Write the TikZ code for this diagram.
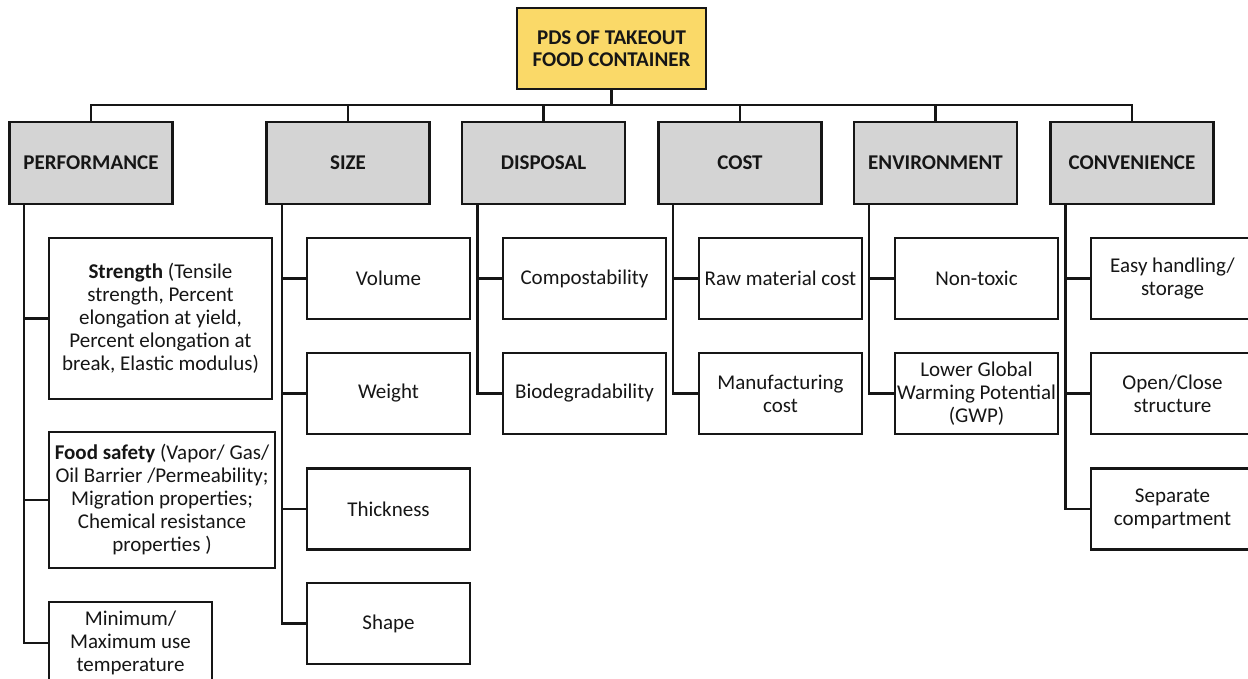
\documentclass[tikz,border=0pt]{standalone}
\usepackage{fontspec}
\setmainfont{Carlito}
\usetikzlibrary{calc}
\definecolor{catgray}{RGB}{212,212,212}
\definecolor{topyellow}{RGB}{250,217,104}
\definecolor{ink}{RGB}{22,22,22}
\tikzset{
  base/.style={draw=ink, line width=2.5pt, minimum width=163pt, minimum height=81pt,
    inner sep=0pt, align=center, text=ink, font=\fontsize{21}{23}\selectfont},
  catbox/.style={base, fill=catgray, minimum height=82pt, font=\fontsize{21}{23}\selectfont\bfseries},
  rootbox/.style={base, fill=topyellow, minimum width=189pt, font=\fontsize{21}{22}\selectfont\bfseries},
  leaf/.style={base, fill=white},
  conn/.style={draw=ink, line width=2.5pt}
}
\begin{document}
\begin{tikzpicture}[x=1pt,y=-1pt]
\useasboundingbox (0,0) rectangle (1248,679);
\clip (0,0) rectangle (1248,679);
% root
\node[rootbox] (root) at (611.5,48.5) {PDS OF TAKEOUT\\FOOD CONTAINER};
% categories
\node[catbox] (perf) at (91,163) {PERFORMANCE};
\node[catbox] (size) at (348,163) {SIZE};
\node[catbox] (disp) at (543.5,163) {DISPOSAL};
\node[catbox] (cost) at (740,163) {COST};
\node[catbox] (env)  at (935.5,163) {ENVIRONMENT};
\node[catbox] (conv) at (1132,163) {CONVENIENCE};
% bus
\coordinate (bus) at (611.5,105);
\draw[conn] (root.south) -- (root.south |- bus);
\draw[conn] (perf.north) |- (bus) -| (conv.north);
\foreach \c in {size,disp,cost,env}{
  \draw[conn] (\c.north) -- (\c.north |- bus);
}
% trunk tops
\coordinate (tperf) at ($(perf.south west)+(15.5,0)$);
\coordinate (tsize) at ($(size.south west)+(16.5,0)$);
\coordinate (tdisp) at ($(disp.south west)+(16.5,0)$);
\coordinate (tcost) at ($(cost.south west)+(15.5,0)$);
\coordinate (tenv)  at ($(env.south west)+(16,0)$);
\coordinate (tconv) at ($(conv.south west)+(16,0)$);
% performance children
\node[leaf, minimum width=223pt, minimum height=161pt] (p1) at (160.5,318.5)
  {\textbf{Strength} (Tensile\\strength, Percent\\elongation at yield,\\Percent elongation at\\break, Elastic modulus)};
\node[leaf, minimum width=226pt, minimum height=136pt] (p2) at (162,500)
  {\textbf{Food safety} (Vapor/ Gas/\\Oil Barrier /Permeability;\\Migration properties;\\Chemical resistance\\properties )};
\node[leaf, minimum height=82pt] (p3) at (130.5,643)
  {Minimum/\\Maximum use\\temperature};
% size children
\node[leaf] (s1) at (388.5,278.5) {Volume};
\node[leaf] (s2) at (388.5,393.5) {Weight};
\node[leaf] (s3) at (388.5,509) {Thickness};
\node[leaf] (s4) at (388.5,623.5) {Shape};
% disposal children
\node[leaf] (d1) at (584.5,278.5) {Compostability};
\node[leaf] (d2) at (584.5,393.5) {Biodegradability};
% cost children
\node[leaf] (c1) at (780.5,278.5) {Raw material cost};
\node[leaf] (c2) at (780.5,393.5) {Manufacturing\\cost};
% environment children
\node[leaf] (e1) at (976.5,278.5) {Non-toxic};
\node[leaf] (e2) at (976.5,393.5) {Lower Global\\Warming Potential\\(GWP)};
% convenience children
\node[leaf] (v1) at (1172.5,278.5) {Easy handling/\\storage};
\node[leaf] (v2) at (1172.5,393.5) {Open/Close\\structure};
\node[leaf] (v3) at (1172.5,509) {Separate\\compartment};
% connectors
\draw[conn] (tperf) |- (p1.west);
\draw[conn] (tperf) |- (p2.west);
\draw[conn] (tperf) |- (p3.west);
\draw[conn] (tsize) |- (s1.west);
\draw[conn] (tsize) |- (s2.west);
\draw[conn] (tsize) |- (s3.west);
\draw[conn] (tsize) |- (s4.west);
\draw[conn] (tdisp) |- (d1.west);
\draw[conn] (tdisp) |- (d2.west);
\draw[conn] (tcost) |- (c1.west);
\draw[conn] (tcost) |- (c2.west);
\draw[conn] (tenv) |- (e1.west);
\draw[conn] (tenv) |- (e2.west);
\draw[conn] (tconv) |- (v1.west);
\draw[conn] (tconv) |- (v2.west);
\draw[conn] (tconv) |- (v3.west);
\end{tikzpicture}
\end{document}
